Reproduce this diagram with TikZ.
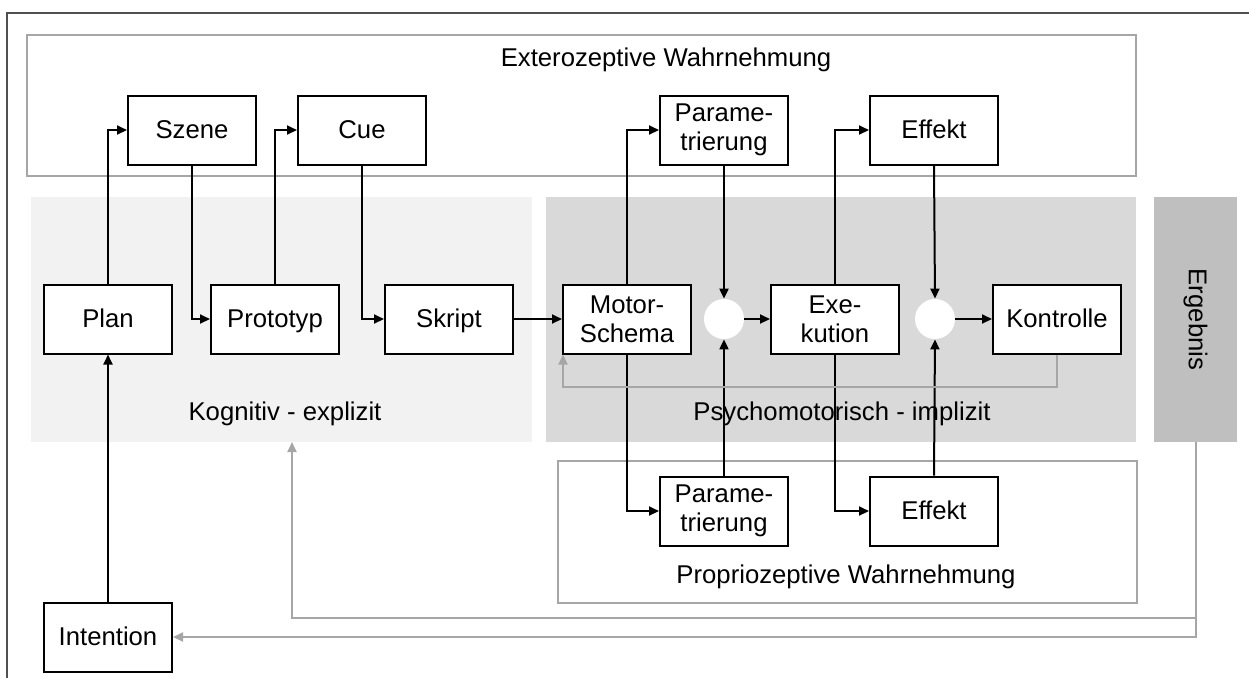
\documentclass[tikz,border=0pt]{standalone}
\usepackage{fontspec}
\setmainfont{Liberation Sans}
\usetikzlibrary{arrows.meta}
\definecolor{lineGray}{HTML}{A6A6A6}
\definecolor{cogFill}{HTML}{F2F2F2}
\definecolor{motFill}{HTML}{D9D9D9}
\definecolor{resFill}{HTML}{BFBFBF}
\definecolor{frameGray}{HTML}{505050}
\tikzset{
  blk2/.style={draw=black, line width=1pt, fill=white, minimum width=64pt, minimum height=34.5pt,
    inner sep=0pt, align=center},
  blk/.style={blk2, text height=10pt, text depth=2pt},
  junction/.style={circle, fill=white, draw=none, minimum size=20pt, inner sep=0pt},
  region/.style={rectangle, inner sep=0pt, outer sep=0pt},
  arr/.style={line width=1pt, draw=black, -{Triangle[length=5pt,width=4.5pt]}},
  garr/.style={line width=1pt, draw=lineGray, -{Triangle[length=5pt,width=4.5pt]}},
  lbl/.style={inner sep=0pt}
}
\begin{document}
\begin{tikzpicture}[x=0.5pt, y=-0.5pt, font=\fontsize{12.85pt}{14.5pt}\selectfont]
\useasboundingbox (0,0) rectangle (1249,677);

% page frame
\draw[frameGray, line width=0.8pt] (7,690) -- (7,13) -- (1260,13);

% background areas
\node[region, draw=lineGray, line width=1pt, minimum width=554.5pt, minimum height=70.5pt] (extero) at (581.5,105.5) {};
\node[region, fill=cogFill, minimum width=250.5pt, minimum height=122.5pt] (kog) at (281.5,319.5) {};
\node[region, fill=motFill, minimum width=295pt, minimum height=122.5pt] (psy) at (841,319.5) {};
\node[region, fill=resFill, minimum width=41.5pt, minimum height=122.5pt] (erg) at (1195.5,319.5) {};
\node[region, draw=lineGray, line width=1pt, minimum width=289.5pt, minimum height=71pt] (proprio) at (847.5,532) {};

% area captions
\node[lbl] (exteroT) at (666,60) {Exterozeptive Wahrnehmung};
\node[lbl] (kogT) at (285,414) {Kognitiv - explizit};
\node[lbl] (psyT) at (842,414) {Psychomotorisch - implizit};
\node[lbl] (propT) at (846,577) {Propriozeptive Wahrnehmung};
\node[lbl, rotate=-90] (ergT) at (1195.5,319.5) {Ergebnis};

% blocks
\node[blk] (szene) at (192,130) {Szene};
\node[blk] (cue) at (362,130) {Cue};
\node[blk2] (parT) at (724,130) {Parame-\\trierung};
\node[blk] (effT) at (934,130) {Effekt};
\node[blk] (plan) at (108,319) {Plan};
\node[blk] (proto) at (275,319) {Prototyp};
\node[blk] (skript) at (449,319) {Skript};
\node[blk2] (motor) at (627,319) {Motor-\\Schema};
\node[junction] (c1) at (724,319) {};
\node[blk2] (exek) at (835,319) {Exe-\\kution};
\node[junction] (c2) at (935,319) {};
\node[blk] (kontr) at (1057,319) {Kontrolle};
\node[blk2] (parB) at (724,511) {Parame-\\trierung};
\node[blk] (effB) at (934,511) {Effekt};
\node[blk] (intent) at (108,637) {Intention};

% cognitive chain
\draw[arr] (plan.north) |- (szene.west);
\draw[arr] (szene.south) |- (proto.west);
\draw[arr] (proto.north) |- (cue.west);
\draw[arr] (cue.south) |- (skript.west);
\draw[arr] (skript.east) -- (motor.west);
\draw[arr] (intent.north) -- (plan.south);

% motor chain
\draw[arr] (motor.north) |- (parT.west);
\draw[arr] (motor.south) |- (parB.west);
\draw[arr] (parT.south) -- (c1.north);
\draw[arr] (parB.north) -- (c1.south);
\draw[arr] (c1.east) -- (exek.west);
\draw[arr] (exek.north) |- (effT.west);
\draw[arr] (exek.south) |- (effB.west);
\draw[arr] (effT.south) -- (c2.north);
\draw[arr] (effB.north) -- (c2.south);
\draw[arr] (c2.east) -- (kontr.west);

% feedback loops
\coordinate (fb) at (563,387);
\draw[garr] (kontr.south) |- (fb) -- (fb |- motor.south);
\coordinate (gb) at (1196,618);
\coordinate (gx) at (292,0);
\draw[garr] (erg.south) |- (intent.east);
\draw[garr] (erg.south |- gb) -| (kog.south -| gx);
\end{tikzpicture}
\end{document}
